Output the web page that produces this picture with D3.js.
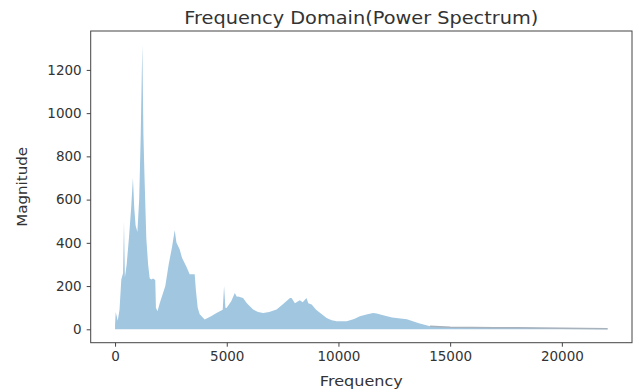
<!DOCTYPE html>
<html>
<head>
<meta charset="utf-8">
<script src="https://cdn.jsdelivr.net/npm/d3@7"></script>
<style>
  html, body { margin: 0; padding: 0; background: #fff; }
  text { font-family: "DejaVu Sans", sans-serif; fill: #333; }
</style>
</head>
<body>
<svg id="chart" width="636" height="392"></svg>
<script>
// Frequency (Hz) of envelope points
const frequency = [0,30,120,200,280,360,400,440,520,620,720,800,860,920,1000,1080,1150,1220,1270,1320,1400,1480,1550,1620,1700,1800,1830,1900,2000,2130,2250,2400,2550,2670,2750,2890,3000,3190,3340,3565,3620,3700,3790,4010,4300,4540,4820,4880,4940,4990,5200,5360,5450,5510,5730,5900,6180,6400,6630,6900,7230,7500,7830,7900,8050,8270,8400,8570,8650,8800,9000,9170,9470,9700,9920,10370,10700,10960,11300,11550,11710,12000,12400,13060,13600,14100,15000,16000,17000,18000,19000,20000,21000,22050];
// Magnitude at those frequencies
const magnitude = [20,80,40,90,230,260,500,240,300,420,560,700,560,480,450,600,900,1315,900,700,420,300,236,230,235,228,100,83,120,162,200,300,380,458,400,370,330,290,255,255,180,100,70,45,60,75,90,200,100,99,130,168,150,152,145,120,92,80,75,80,92,115,145,145,120,134,125,145,120,115,90,76,52,42,37,37,48,60,70,75,73,65,55,46,28,14,9,8,7,7,6,5,4,3];
const xTicks = [0,5000,10000,15000,20000];
const yTicks = [0,200,400,600,800,1000,1200];

const data = frequency.map((f,i)=>({f, m: magnitude[i]}));
const svg = d3.select("#chart");
const L = 90.7, R = 632, T = 31, B = 342.7;
const x = d3.scaleLinear().domain([-1090, 23140]).range([L, R]);
const y = d3.scaleLinear().domain([-62, 1380]).range([B, T]);

const g = svg.append("g");
g.append("path").datum(data)
  .attr("d", d3.area().x(d=>x(d.f)).y0(y(0)).y1(d=>y(d.m)))
  .attr("fill", "#a1c6e0");
g.append("path").datum(data.filter(d=>d.f>=14100))
  .attr("d", d3.line().x(d=>x(d.f)).y(d=>y(d.m)))
  .attr("fill", "none").attr("stroke", "#a8b2bc").attr("stroke-width", 1.5);

const xa = svg.append("g").attr("transform", `translate(0,${B})`)
  .call(d3.axisBottom(x).tickValues(xTicks).tickFormat(d3.format("d")).tickSizeOuter(0).tickSize(4).tickPadding(5));
const ya = svg.append("g").attr("transform", `translate(${L},0)`)
  .call(d3.axisLeft(y).tickValues(yTicks).tickFormat(d3.format("d")).tickSizeOuter(0).tickSize(4).tickPadding(5));
[xa, ya].forEach(a => {
  a.select(".domain").remove();
  a.selectAll("line").attr("stroke", "#444");
  a.selectAll("text").style("font-size", "13.5px").attr("fill", "#333");
});
svg.append("rect").attr("x", L).attr("y", T).attr("width", R-L).attr("height", B-T)
  .attr("fill", "none").attr("stroke", "#444").attr("stroke-width", 1);

svg.append("text").attr("x", (L+R)/2).attr("y", 24).attr("text-anchor", "middle")
  .attr("textLength", 354).attr("lengthAdjust", "spacingAndGlyphs")
  .style("font-size", "17.5px").text("Frequency Domain(Power Spectrum)");
svg.append("text").attr("x", (L+R)/2).attr("y", 386).attr("text-anchor", "middle")
  .attr("textLength", 83).attr("lengthAdjust", "spacingAndGlyphs")
  .style("font-size", "14.5px").text("Frequency");
svg.append("text").attr("transform", `translate(27,${(T+B)/2}) rotate(-90)`).attr("text-anchor", "middle")
  .attr("textLength", 80).attr("lengthAdjust", "spacingAndGlyphs")
  .style("font-size", "14px").text("Magnitude");
</script>
</body>
</html>
